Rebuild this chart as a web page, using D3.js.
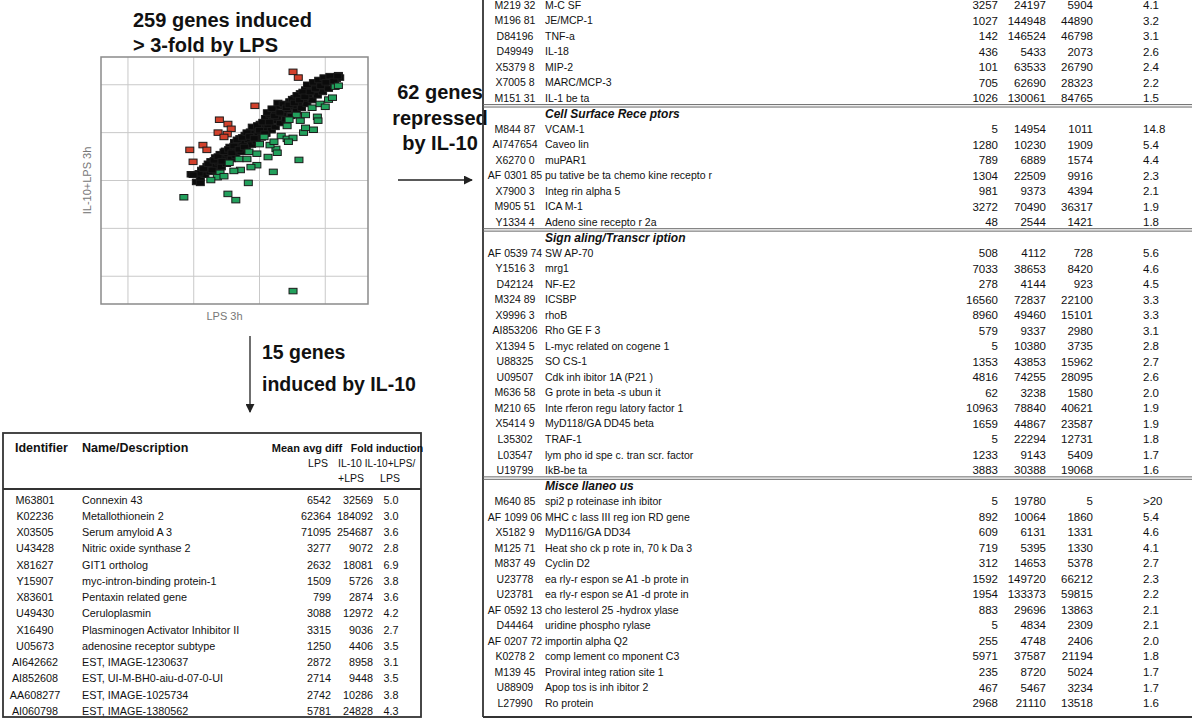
<!DOCTYPE html>
<html>
<head>
<meta charset="utf-8">
<script src="https://cdn.jsdelivr.net/npm/d3@7"></script>
<style>
  body { margin: 0; background: #fff; }
  svg text { font-family: "Liberation Sans", Arial, sans-serif; fill: #111; }
  .narrow { font-family: "Liberation Sans Narrow", "DejaVu Sans Condensed", "Liberation Sans", sans-serif; }
</style>
</head>
<body>
<svg id="fig" width="1202" height="719"></svg>
<script>
// ---- Scatter: log10 mean avg diff, LPS 3h (x) vs IL-10+LPS 3h (y) ----
const inducedPoints = [
  [2.96,3.13],[3.04,2.97],[3.10,3.05],[3.12,3.22],[3.17,3.12],[3.20,3.30],[3.25,3.18],[3.26,3.40],
  [3.30,3.30],[3.33,3.48],[3.35,3.20],[3.38,3.38],[3.40,3.55],[3.42,3.28],[3.45,3.47],[3.48,3.62],
  [3.50,3.35],[3.52,3.55],[3.55,3.70],[3.57,3.45],[3.60,3.62],[3.62,3.80],[3.64,3.52],[3.67,3.72],
  [3.70,3.88],[3.72,3.60],[3.75,3.78],[3.78,3.95],[3.80,3.68],[3.83,3.85],[3.86,4.02],[3.88,3.75],
  [3.90,3.92],[3.93,4.10],[3.95,3.82],[3.98,4.00],[4.01,4.18],[4.03,3.90],[4.06,4.08],[4.09,4.30],
  [4.10,3.98],[4.13,4.16],[4.16,4.38],[4.18,4.05],[4.20,4.25],[4.22,4.45],[4.24,4.12],[4.27,4.32],
  [4.30,4.55],[4.32,4.20],[4.35,4.40],[4.38,4.58],[4.40,4.28],[4.43,4.48],[4.46,4.65],[4.48,4.35],
  [4.51,4.55],[4.54,4.72],[4.56,4.45],[4.59,4.62],[4.62,4.82],[4.64,4.52],[4.67,4.70],[4.70,4.90],
  [4.72,4.60],[4.75,4.78],[4.78,4.98],[4.80,4.68],[4.83,4.85],[4.86,5.02],[4.88,4.78],[4.91,4.92],
  [4.94,5.08],[4.96,4.85],[4.99,5.00],[5.02,5.12],[5.05,4.92],[5.08,5.06],[5.11,5.15],[5.14,5.00],
  [5.17,5.12],[5.20,5.20],[5.22,5.15],
  [3.08,3.15],[3.15,3.25],[3.22,3.35],[3.28,3.22],[3.31,3.42],[3.37,3.50],[3.43,3.40],[3.46,3.60],
  [3.53,3.65],[3.58,3.58],[3.61,3.72],[3.66,3.85],[3.69,3.65],[3.74,3.90],[3.77,3.70],[3.81,4.00],
  [3.85,3.92],[3.89,4.12],[3.92,3.88],[3.97,4.15],[4.00,4.05],[4.05,4.22],[4.08,3.98],[4.12,4.42],
  [4.15,4.22],[4.19,4.50],[4.23,4.35],[4.28,4.62],[4.31,4.42],[4.36,4.60],[4.41,4.52],[4.45,4.58],
  [4.50,4.70],[4.53,4.62],[4.57,4.78],[4.61,4.68],[4.66,4.85],[4.69,4.75],[4.73,5.00],[4.77,4.85],
  [4.82,5.05],[4.85,4.92],[4.90,5.10],[4.93,4.98],[4.98,5.15],[5.01,5.05],[5.07,5.18],[5.13,5.08],
  [5.19,5.18],[2.99,3.12],[3.10,2.95]
];
const repressedPoints = [
  [2.85,2.65],[3.52,2.72],[3.64,2.59],[3.83,2.95],[4.51,0.69],[4.21,3.18],[4.60,3.43],[4.82,4.06],
  [3.96,3.32],[3.87,3.28],[3.71,3.22],[3.61,3.20],[3.54,3.37],[3.40,3.16],[3.36,3.07],[3.69,3.45],
  [3.84,3.60],[3.96,3.56],[4.13,3.49],[4.25,3.66],[4.16,3.74],[4.00,3.76],[4.07,3.91],[4.22,3.81],
  [4.33,3.93],[4.42,3.87],[4.51,3.89],[4.44,3.81],[4.67,4.00],[4.70,4.10],[4.88,4.33],[4.89,4.25],
  [4.62,4.25],[4.56,4.37],[4.42,4.14],[4.45,4.27],[4.70,4.37],[4.80,4.52],[4.92,4.60],[5.05,4.69],
  [5.11,4.73],[5.15,4.96],[5.20,4.98],[5.00,4.54],[3.81,3.45],[4.27,3.58],[3.26,3.01],[3.46,3.09]
];
const enhancedPoints = [
  [4.51,5.27],[4.59,5.15],[3.93,4.56],[3.39,4.27],[3.52,4.18],[3.57,4.08],[3.37,4.00],
  [3.51,3.97],[3.46,3.91],[3.14,3.74],[3.20,3.64],[2.94,3.64],[2.99,3.39]
];
const gridX = [2, 3, 4, 5];
const gridY = [1, 2, 3, 4, 5];

// ---- Genes induced by IL-10 ----
const il10Ids = ["M63801","K02236","X03505","U43428","X81627","Y15907","X83601","U49430",
  "X16490","U05673","AI642662","AI852608","AA608277","AI060798"];
const il10Names = ["Connexin 43","Metallothionein 2","Serum amyloid A 3","Nitric oxide synthase 2",
  "GIT1 ortholog","myc-intron-binding protein-1","Pentaxin related gene","Ceruloplasmin",
  "Plasminogen Activator Inhibitor  II","adenosine receptor subtype","EST, IMAGE-1230637",
  "EST, UI-M-BH0-aiu-d-07-0-UI","EST, IMAGE-1025734","EST, IMAGE-1380562"];
const il10Lps = [6542,62364,71095,3277,2632,1509,799,3088,3315,1250,2872,2714,2742,5781];
const il10PlusLps = [32569,184092,254687,9072,18081,5726,2874,12972,9036,4406,8958,9448,10286,24828];
const il10Fold = ["5.0","3.0","3.6","2.8","6.9","3.8","3.6","4.2","2.7","3.5","3.1","3.5","3.8","4.3"];

// ---- Genes repressed by IL-10: [id, name, medium, LPS, IL-10+LPS, fold] ----
const cytokineRows = [
  ["M219 32","M-C SF",3257,24197,5904,"4.1"],
  ["M196 81","JE/MCP-1",1027,144948,44890,"3.2"],
  ["D84196","TNF-a",142,146524,46798,"3.1"],
  ["D49949","IL-18",436,5433,2073,"2.6"],
  ["X5379 8","MIP-2",101,63533,26790,"2.4"],
  ["X7005 8","MARC/MCP-3",705,62690,28323,"2.2"],
  ["M151 31","IL-1 be ta",1026,130061,84765,"1.5"]
];
const receptorRows = [
  ["M844 87","VCAM-1",5,14954,1011,"14.8"],
  ["AI747654","Caveo lin",1280,10230,1909,"5.4"],
  ["X6270 0","muPAR1",789,6889,1574,"4.4"],
  ["AF 0301 85","pu tative be ta chemo kine recepto r",1304,22509,9916,"2.3"],
  ["X7900 3","Integ rin alpha 5",981,9373,4394,"2.1"],
  ["M905 51","ICA M-1",3272,70490,36317,"1.9"],
  ["Y1334 4","Adeno sine recepto r 2a",48,2544,1421,"1.8"]
];
const signalingRows = [
  ["AF 0539 74","SW AP-70",508,4112,728,"5.6"],
  ["Y1516 3","mrg1",7033,38653,8420,"4.6"],
  ["D42124","NF-E2",278,4144,923,"4.5"],
  ["M324 89","ICSBP",16560,72837,22100,"3.3"],
  ["X9996 3","rhoB",8960,49460,15101,"3.3"],
  ["AI853206","Rho GE F 3",579,9337,2980,"3.1"],
  ["X1394 5","L-myc related on cogene  1",5,10380,3735,"2.8"],
  ["U88325","SO CS-1",1353,43853,15962,"2.7"],
  ["U09507","Cdk inh ibitor 1A (P21 )",4816,74255,28095,"2.6"],
  ["M636 58","G prote in beta -s ubun it",62,3238,1580,"2.0"],
  ["M210 65","Inte rferon regu latory factor 1",10963,78840,40621,"1.9"],
  ["X5414 9","MyD118/GA DD45 beta",1659,44867,23587,"1.9"],
  ["L35302","TRAF-1",5,22294,12731,"1.8"],
  ["L03547","lym pho id spe c. tran scr. factor",1233,9143,5409,"1.7"],
  ["U19799","IkB-be ta",3883,30388,19068,"1.6"]
];
const miscRows = [
  ["M640 85","spi2 p roteinase  inh ibitor",5,19780,5,">20"],
  ["AF 1099 06","MHC c lass III reg ion RD gene",892,10064,1860,"5.4"],
  ["X5182 9","MyD116/GA DD34",609,6131,1331,"4.6"],
  ["M125 71","Heat sho ck p rote in, 70 k Da 3",719,5395,1330,"4.1"],
  ["M837 49","Cyclin D2",312,14653,5378,"2.7"],
  ["U23778","ea rly-r espon se A1 -b prote in",1592,149720,66212,"2.3"],
  ["U23781","ea rly-r espon se A1 -d prote in",1954,133373,59815,"2.2"],
  ["AF 0592 13","cho lesterol 25 -hydrox ylase",883,29696,13863,"2.1"],
  ["D44464","uridine  phospho  rylase",5,4834,2309,"2.1"],
  ["AF 0207 72","importin alpha Q2",255,4748,2406,"2.0"],
  ["K0278 2","comp lement co  mponent C3",5971,37587,21194,"1.8"],
  ["M139 45","Proviral integ ration site 1",235,8720,5024,"1.7"],
  ["U88909","Apop tos is inh ibitor 2",467,5467,3234,"1.7"],
  ["L27990","Ro protein",2968,21110,13518,"1.6"]
];
const sectionTitles = [null, "Cell Surface  Rece ptors", "Sign aling/Transcr iption", "Misce llaneo us"];

const svg = d3.select("#fig");
svg.append("rect").attr("width", 1202).attr("height", 719).attr("fill", "#fff");

// ================= scatter panel =================
const x = d3.scaleLinear().domain([1.59, 5.65]).range([101, 368]);
const y = d3.scaleLinear().domain([0.42, 5.58]).range([304, 57]);

const plot = svg.append("g");
plot.append("g").selectAll("line").data(gridX).join("line")
  .attr("x1", d => x(d)).attr("x2", d => x(d))
  .attr("y1", y.range()[1]).attr("y2", y.range()[0])
  .attr("stroke", "#c9c9c9").attr("stroke-width", 1);
plot.append("g").selectAll("line").data(gridY).join("line")
  .attr("y1", d => y(d)).attr("y2", d => y(d))
  .attr("x1", x.range()[0]).attr("x2", x.range()[1])
  .attr("stroke", "#c9c9c9").attr("stroke-width", 1);
plot.append("rect")
  .attr("x", x.range()[0]).attr("y", y.range()[1])
  .attr("width", x.range()[1] - x.range()[0]).attr("height", y.range()[0] - y.range()[1])
  .attr("fill", "none").attr("stroke", "#8a8a8a").attr("stroke-width", 1.5);

const mw = 8, mh = 5.5;
function markers(data, fill) {
  plot.append("g").selectAll("rect").data(data).join("rect")
    .attr("x", d => x(d[0]) - mw / 2).attr("y", d => y(d[1]) - mh / 2)
    .attr("width", mw).attr("height", mh)
    .attr("fill", fill).attr("stroke", "#1b1b1b").attr("stroke-width", 1);
}
markers(inducedPoints, "#0b0b0b");
markers(repressedPoints, "#22a05c");
markers(enhancedPoints, "#d2412c");

plot.append("text").attr("x", (x.range()[0] + x.range()[1]) / 2 - 10).attr("y", 320)
  .attr("text-anchor", "middle").attr("font-size", 11).style("fill", "#777").text("LPS 3h");
plot.append("text").attr("transform", `translate(91,${(y.range()[0] + y.range()[1]) / 2}) rotate(-90)`)
  .attr("text-anchor", "middle").attr("font-size", 11).style("fill", "#777").text("IL-10+LPS 3h");

// ================= captions and arrows =================
const bold = (t, xx, yy, anchor = "start", size = 20) =>
  svg.append("text").attr("x", xx).attr("y", yy).attr("text-anchor", anchor)
    .attr("font-size", size).attr("font-weight", "bold").text(t);
bold("259 genes induced", 133, 27);
bold("> 3-fold by LPS", 133, 52);
bold("62 genes", 440, 99, "middle");
bold("repressed", 440, 125, "middle");
bold("by IL-10", 440, 150, "middle");
bold("15 genes", 262, 359, "start", 19.5);
bold("induced by IL-10", 262, 391, "start", 19.5);

const defs = svg.append("defs");
defs.append("marker").attr("id", "head").attr("viewBox", "0 0 10 10")
  .attr("refX", 9).attr("refY", 5).attr("markerWidth", 9).attr("markerHeight", 9)
  .attr("markerUnits", "userSpaceOnUse").attr("orient", "auto")
  .append("path").attr("d", "M0,0 L10,5 L0,10 Z").attr("fill", "#222");
svg.append("line").attr("x1", 398).attr("y1", 180).attr("x2", 472).attr("y2", 180)
  .attr("stroke", "#222").attr("stroke-width", 1.3).attr("marker-end", "url(#head)");
svg.append("line").attr("x1", 250).attr("y1", 336).attr("x2", 250).attr("y2", 412)
  .attr("stroke", "#222").attr("stroke-width", 1.3).attr("marker-end", "url(#head)");

// ================= IL-10 induced table =================
const lt = svg.append("g");
const ltBox = { x0: 3, x1: 421, y0: 433, y1: 717 };
lt.append("rect").attr("x", ltBox.x0).attr("y", ltBox.y0)
  .attr("width", ltBox.x1 - ltBox.x0).attr("height", ltBox.y1 - ltBox.y0)
  .attr("fill", "none").attr("stroke", "#333").attr("stroke-width", 1.8);
lt.append("line").attr("x1", ltBox.x0).attr("x2", ltBox.x1).attr("y1", 489).attr("y2", 489)
  .attr("stroke", "#333").attr("stroke-width", 1.8);

const hdr = (t, xx, yy, anchor = "start", size = 12.5) =>
  lt.append("text").attr("x", xx).attr("y", yy).attr("text-anchor", anchor)
    .attr("font-size", size).attr("font-weight", "bold").text(t);
hdr("Identifier", 15, 452);
hdr("Name/Description", 82, 452);
hdr("Mean avg diff", 307, 452, "middle", 11);
hdr("Fold induction", 387, 452, "middle", 10.5);
const sub = (t, xx, yy, size = 10.5) =>
  lt.append("text").attr("x", xx).attr("y", yy).attr("text-anchor", "middle")
    .attr("font-size", size).text(t);
sub("LPS", 318, 467); sub("IL-10", 350, 467); sub("+LPS", 351, 482);
sub("IL-10+LPS/", 390, 467, 10); sub("LPS", 390, 482);

const ly = d3.scaleLinear().domain([0, il10Ids.length - 1]).range([500, 711]);
const ltRows = lt.append("g").attr("font-size", 10.8);
il10Ids.forEach((id, i) => {
  const g = ltRows.append("g").attr("transform", `translate(0,${ly(i)})`);
  g.append("text").attr("x", 35).attr("dy", "0.35em").attr("text-anchor", "middle").text(id);
  g.append("text").attr("x", 82).attr("dy", "0.35em").text(il10Names[i]);
  g.append("text").attr("x", 331).attr("dy", "0.35em").attr("text-anchor", "end").text(il10Lps[i]);
  g.append("text").attr("x", 373).attr("dy", "0.35em").attr("text-anchor", "end").text(il10PlusLps[i]);
  g.append("text").attr("x", 391).attr("dy", "0.35em").attr("text-anchor", "middle").text(il10Fold[i]);
});

// ================= IL-10 repressed table =================
const rt = svg.append("g").attr("class", "narrow");
const rtBox = { x0: 483, x1: 1192 };
const sections = [cytokineRows, receptorRows, signalingRows, miscRows];
const slots = [];
sections.forEach((rows, s) => {
  if (sectionTitles[s]) slots.push({ title: sectionTitles[s] });
  rows.forEach(r => slots.push({ row: r }));
  if (s < sections.length - 1) slots.push({ rule: true });
});
// rules sit between rows, they do not take a full slot
let k = 0;
slots.forEach(sl => { if (sl.rule) sl.pos = k - 0.5; else sl.pos = k++; });
const ry = d3.scaleLinear().domain([0, k - 1]).range([5, 703]);

rt.append("line").attr("x1", rtBox.x0).attr("x2", rtBox.x0).attr("y1", 0).attr("y2", 717)
  .attr("stroke", "#333").attr("stroke-width", 1.8);
rt.append("line").attr("x1", rtBox.x0).attr("x2", rtBox.x1).attr("y1", 717).attr("y2", 717)
  .attr("stroke", "#333").attr("stroke-width", 1.8);

const cols = { id: 515, name: 545, c1: 998, c2: 1046, c3: 1093, fold: 1143 };
slots.forEach(sl => {
  const yy = ry(sl.pos);
  if (sl.rule) {
    // double rule between sections
    [-1.2, 1.2].forEach(o => rt.append("line")
      .attr("x1", rtBox.x0).attr("x2", rtBox.x1).attr("y1", yy + o).attr("y2", yy + o)
      .attr("stroke", "#666").attr("stroke-width", 1));
  } else if (sl.title) {
    rt.append("text").attr("x", cols.name).attr("y", yy).attr("dy", "0.35em")
      .attr("font-size", 12).attr("font-weight", "bold").attr("font-style", "italic").text(sl.title);
  } else {
    const r = sl.row;
    const g = rt.append("g").attr("transform", `translate(0,${yy})`);
    g.append("text").attr("x", cols.id).attr("dy", "0.35em").attr("text-anchor", "middle")
      .attr("font-size", 10.5).text(r[0]);
    g.append("text").attr("x", cols.name).attr("dy", "0.35em").attr("font-size", 10.5).text(r[1]);
    g.append("text").attr("x", cols.c1).attr("dy", "0.35em").attr("text-anchor", "end")
      .attr("font-size", 11.5).text(r[2]);
    g.append("text").attr("x", cols.c2).attr("dy", "0.35em").attr("text-anchor", "end")
      .attr("font-size", 11.5).text(r[3]);
    g.append("text").attr("x", cols.c3).attr("dy", "0.35em").attr("text-anchor", "end")
      .attr("font-size", 11.5).text(r[4]);
    g.append("text").attr("x", cols.fold).attr("dy", "0.35em").attr("font-size", 11.5).text(r[5]);
  }
});
</script>
</body>
</html>
